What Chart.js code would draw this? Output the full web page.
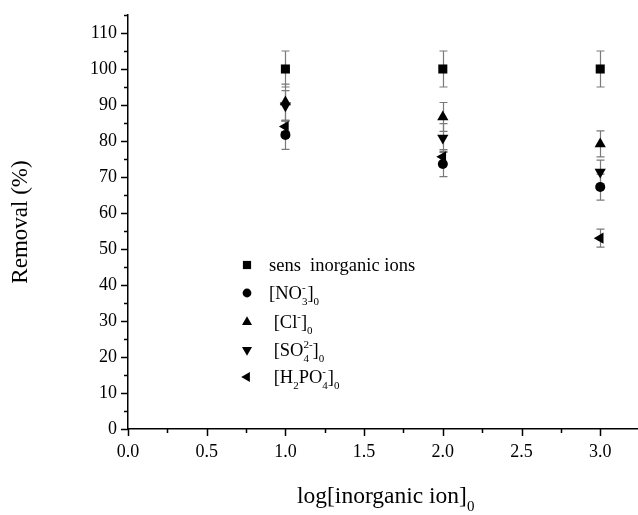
<!DOCTYPE html>
<html lang="en">
<head>
<meta charset="UTF-8">
<title>Removal vs log[inorganic ion]</title>
<script src="https://cdn.jsdelivr.net/npm/chart.js"></script>
<style>
  html, body { margin: 0; padding: 0; background: #fff; }
  #wrap { width: 638px; height: 515px; }
</style>
</head>
<body>
<div id="wrap"><canvas id="chart"></canvas></div>
<script>
// values
const logIon = [1, 2, 3];
const sens = [100, 100, 100];
const sensErr = [5, 5, 5];
const no3 = [81.7, 73.6, 67.2];
const no3Err = [4, 3.5, 3.6];
const cl = [90.8, 86.7, 79.2];
const clErr = [5, 4, 3.6];
const so4 = [89.8, 80.8, 71.4];
const so4Err = [4.2, 4, 3.3];
const h2po4 = [84, 75.6, 53];
const h2po4Err = [1.5, 2, 2.5];

const xTickStep = 0.5;
const yTickStep = 10;

const SERIF = '"Liberation Serif", "DejaVu Serif", serif';

// legend labels as rich text pieces (t = normal, sub / sup = small)
const legendLabels = [
  [{t: 'sens  inorganic ions'}],
  [{t: '[NO'}, {sub: '3', sup: '-'}, {t: ']'}, {sub: '0'}],
  [{t: ' [Cl'}, {sup: '-'}, {t: ']'}, {sub: '0'}],
  [{t: ' [SO'}, {sub: '4', sup: '2-'}, {t: ']'}, {sub: '0'}],
  [{t: ' [H'}, {sub: '2'}, {t: 'PO'}, {sub: '4', sup: '-'}, {t: ']'}, {sub: '0'}]
];
const xTitle = [{t: 'log[inorganic ion]'}, {sub: '0'}];

function drawRich(ctx, parts, x, base, size, measureOnly) {
  let cx = x;
  const small = Math.round(size * 0.62);
  parts.forEach(p => {
    if (p.t !== undefined) {
      ctx.font = size + 'px ' + SERIF;
      if (!measureOnly) ctx.fillText(p.t, cx, base);
      cx += ctx.measureText(p.t).width;
    } else {
      ctx.font = small + 'px ' + SERIF;
      let w = 0;
      if (p.sub) {
        if (!measureOnly) ctx.fillText(p.sub, cx, base + size * 0.33);
        w = Math.max(w, ctx.measureText(p.sub).width);
      }
      if (p.sup) {
        if (!measureOnly) ctx.fillText(p.sup, cx, base - size * 0.42);
        w = Math.max(w, ctx.measureText(p.sup).width);
      }
      cx += w;
    }
  });
  return cx - x;
}

const errorBars = {
  id: 'errorBars',
  beforeDatasetsDraw(chart) {
    const {ctx, scales: {x, y}} = chart;
    ctx.save();
    ctx.strokeStyle = '#7a7a7a';
    ctx.lineWidth = 1.2;
    chart.data.datasets.forEach(ds => {
      ds.data.forEach((pt, j) => {
        const e = ds.errors[j];
        const px = Math.round(x.getPixelForValue(pt.x)) + 0.5;
        const top = y.getPixelForValue(pt.y + e);
        const bot = y.getPixelForValue(pt.y - e);
        ctx.beginPath();
        ctx.moveTo(px, top); ctx.lineTo(px, bot);
        ctx.moveTo(px - 4, top); ctx.lineTo(px + 4, top);
        ctx.moveTo(px - 4, bot); ctx.lineTo(px + 4, bot);
        ctx.stroke();
      });
    });
    ctx.restore();
  }
};

const axisExtras = {
  id: 'axisExtras',
  afterDraw(chart) {
    const {ctx, chartArea: a, scales: {x, y}} = chart;
    ctx.save();
    ctx.strokeStyle = '#000';
    ctx.lineWidth = 1.5;
    ctx.beginPath();
    // y ticks, minor halfway between majors
    for (let v = y.min; v <= y.max + 1e-9; v += yTickStep / 2) {
      const py = Math.round(y.getPixelForValue(v)) + 0.5;
      const len = Math.abs(v % yTickStep) < 1e-9 ? 7 : 4;
      ctx.moveTo(a.left - len, py); ctx.lineTo(a.left, py);
    }
    for (let i = 0; i * xTickStep / 2 <= x.max + 1e-9; i++) {
      const px = Math.round(x.getPixelForValue(i * xTickStep / 2)) + 0.5;
      const len = i % 2 === 0 ? 7 : 4;
      ctx.moveTo(px, a.bottom); ctx.lineTo(px, a.bottom + len);
    }
    ctx.stroke();

    // legend
    ctx.fillStyle = '#000';
    ctx.textBaseline = 'alphabetic';
    ctx.textAlign = 'left';
    const rows = [265, 293, 322, 350, 377];
    chart.data.datasets.forEach((ds, i) => {
      Chart.helpers.drawPoint(ctx, {
        pointStyle: ds.pointStyle, rotation: ds.rotation || 0,
        radius: ds.legendRadius, borderWidth: 0
      }, 247, rows[i]);
      drawRich(ctx, legendLabels[i], 269, rows[i] + 6, 18.5);
    });

    // x title
    const w = drawRich(ctx, xTitle, 0, 0, 23.5, true);
    drawRich(ctx, xTitle, 297 + (a.left + a.right) / 2 - 383, 503, 23.5);
    ctx.restore();
  }
};

function series(vals, errs, style, rot, r, lr) {
  return {
    data: logIon.map((v, i) => ({x: v, y: vals[i]})),
    errors: errs,
    pointStyle: style,
    rotation: rot,
    pointRotation: rot,
    pointRadius: r,
    legendRadius: lr,
    pointBackgroundColor: '#000',
    pointBorderColor: '#000',
    pointBorderWidth: 0,
    showLine: false
  };
}

new Chart(document.getElementById('chart'), {
  type: 'scatter',
  data: {
    datasets: [
      series(sens, sensErr, 'rect', 0, 6.4, 5.8),
      series(no3, no3Err, 'circle', 0, 5, 4.4),
      series(cl, clErr, 'triangle', 0, 6.5, 5.8),
      series(so4, so4Err, 'triangle', 180, 6.5, 5.8),
      series(h2po4, h2po4Err, 'triangle', 270, 6.5, 5.8)
    ]
  },
  options: {
    responsive: true,
    maintainAspectRatio: false,
    animation: false,
    layout: { autoPadding: false, padding: { top: 15, right: 0, left: 0, bottom: 0 } },
    plugins: { legend: { display: false }, tooltip: { enabled: false } },
    scales: {
      x: {
        type: 'linear', min: 0, max: 3.24,
        afterFit: s => { s.height = 86; s.paddingLeft = 0; s.paddingRight = 0; },
        grid: { display: false, drawTicks: false },
        border: { display: true, color: '#000', width: 1.5 },
        ticks: {
          stepSize: xTickStep, includeBounds: false, padding: 12,
          color: '#000', font: { family: SERIF, size: 18 },
          callback: v => Number(v).toFixed(1)
        }
      },
      y: {
        min: 0, max: 115,
        afterFit: s => { s.width = 128; s.paddingTop = 0; s.paddingBottom = 0; },
        grid: { display: false, drawTicks: false },
        border: { display: true, color: '#000', width: 1.5 },
        title: {
          display: true, text: 'Removal (%)', color: '#000',
          font: { family: SERIF, size: 23 }, padding: { top: 7, bottom: 0 }
        },
        ticks: {
          stepSize: yTickStep, includeBounds: false, padding: 11,
          color: '#000', font: { family: SERIF, size: 18 }
        }
      }
    }
  },
  plugins: [errorBars, axisExtras]
});
</script>
</body>
</html>
